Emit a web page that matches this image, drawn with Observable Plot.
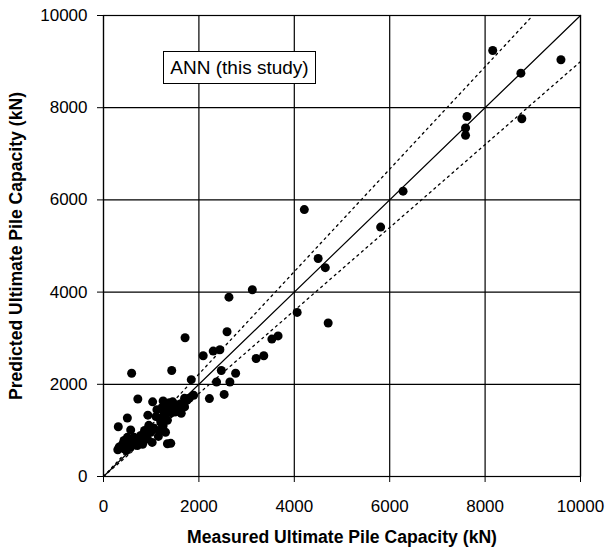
<!DOCTYPE html>
<html><head><meta charset="utf-8">
<script src="https://cdn.jsdelivr.net/npm/d3@7"></script>
<script src="https://cdn.jsdelivr.net/npm/@observablehq/plot@0.6"></script>
<style>
body{margin:0;background:#fff;}
#chart{position:relative;width:608px;height:555px;font-family:"Liberation Sans",Arial,sans-serif;}
#legend{position:absolute;left:163px;top:51px;width:153px;height:33px;border:1px solid #000;background:#fff;font-size:19px;display:flex;align-items:center;justify-content:center;box-sizing:border-box;color:#000;}
</style></head><body><div id="chart"><div id="legend">ANN (this study)</div></div>
<script>
const measured = [8160,9590,8750,7620,7590,7590,8770,6280,4210,5810,4500,4650,3120,2630,4060,4710,1710,2590,3660,3530,2090,2300,2440,3200,3360,590,1430,2470,2770,1840,2370,2650,2220,2530,
720,1030,1250,1750,1700,1620,1480,1370,1230,1270,1630,1520,930,500,310,570,950,1200,1340,1160,1300,990,780,640,500,430,850,1020,1410,1340,330,430,710,570,300,1890,1800,1550,1420,1100,1050,880,650,760,540,1150,1250,860,1700,1450,1120,1330,480,620,920,1380,1600,1180,820,400,1500];
const predicted = [9240,9040,8750,7810,7560,7400,7760,6190,5790,5410,4730,4530,4050,3890,3560,3330,3010,3140,3050,2980,2620,2720,2750,2560,2620,2240,2300,2300,2240,2100,2050,2050,1690,1780,
1680,1620,1640,1650,1510,1580,1500,1470,1500,1360,1370,1420,1330,1270,1080,1010,1110,1180,1220,1000,960,960,890,850,850,780,780,740,720,710,640,600,670,640,580,1760,1700,1550,1380,1300,1050,900,720,800,720,870,1100,1000,1700,1620,1450,1560,560,760,820,1600,1480,1260,700,700,1400];
const axisTicks = [0,2000,4000,6000,8000,10000];
const lineMeasured = [0,10000];
const linePredicted = [0,10000];
const upperMeasured = [0,9000];
const upperPredicted = [0,10000];
const lowerMeasured = [0,10000];
const lowerPredicted = [0,9000];
const xTitle = "Measured Ultimate Pile Capacity (kN)";
const yTitle = "Predicted Ultimate Pile Capacity (kN)";

const pts = measured.map((m,i)=>({m, p: predicted[i]}));
const mk = (xs, ys) => xs.map((x,i)=>({x, y: ys[i]}));

const chart = Plot.plot({
  width: 608, height: 555,
  marginLeft: 103, marginRight: 28, marginTop: 15, marginBottom: 79,
  style: {fontFamily: '"Liberation Sans", Arial, sans-serif', fontSize: "17px", color: "#000", background: "#fff", overflow: "visible"},
  x: {domain: [0, 10000]},
  y: {domain: [0, 10000]},
  marks: [
    Plot.gridX(axisTicks, {stroke: "#000", strokeOpacity: 1, strokeWidth: 1.2}),
    Plot.gridY(axisTicks, {stroke: "#000", strokeOpacity: 1, strokeWidth: 1.2}),
    Plot.frame({stroke: "#000", strokeWidth: 1.2}),
    Plot.line(mk(upperMeasured, upperPredicted), {x: "x", y: "y", stroke: "#000", strokeWidth: 1.3, strokeDasharray: "2,4"}),
    Plot.line(mk(lowerMeasured, lowerPredicted), {x: "x", y: "y", stroke: "#000", strokeWidth: 1.3, strokeDasharray: "2,4"}),
    Plot.line(mk(lineMeasured, linePredicted), {x: "x", y: "y", stroke: "#000", strokeWidth: 1.2}),
    Plot.dot(pts, {x: "m", y: "p", r: 4.5, fill: "#000", stroke: "none"}),
    Plot.axisX(axisTicks, {tickSize: 6, tickPadding: 17, tickFormat: d => String(d), label: null, stroke: "#000"}),
    Plot.axisY(axisTicks, {tickSize: 6, tickPadding: 10, tickFormat: d => String(d), label: null, stroke: "#000"}),
    Plot.text([xTitle], {frameAnchor: "bottom", dy: 61, fontWeight: "bold", fontSize: 17.6, lineAnchor: "middle"}),
    Plot.text([yTitle], {frameAnchor: "left", dx: -87, rotate: -90, textAnchor: "middle", fontWeight: "bold", fontSize: 17.6, lineAnchor: "middle"})
  ]
});
document.getElementById("chart").prepend(chart);
</script></body></html>
